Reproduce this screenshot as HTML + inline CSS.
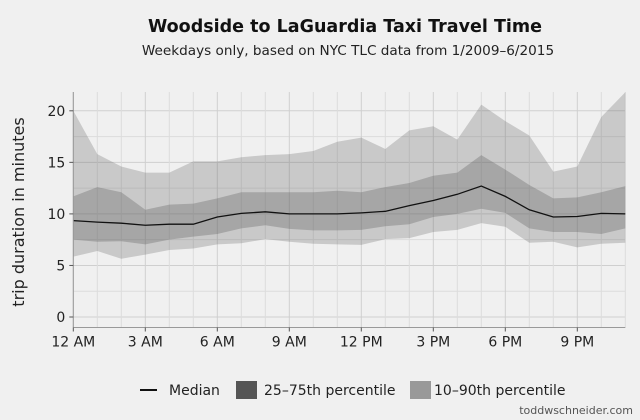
<!DOCTYPE html>
<html><head><meta charset="utf-8"><style>
html,body{margin:0;padding:0;background:#f0f0f0;}
svg{display:block;font-family:"DejaVu Sans","Liberation Sans",sans-serif;}
</style></head><body>
<svg id="chart" width="640" height="420" viewBox="0 0 640 420">
<rect width="640" height="420" fill="#f0f0f0"/>
<text x="345" y="32" text-anchor="middle" font-size="17.5" font-weight="bold" fill="#111">Woodside to LaGuardia Taxi Travel Time</text>
<text x="348" y="55" text-anchor="middle" font-size="13.6" fill="#222">Weekdays only, based on NYC TLC data from 1/2009–6/2015</text>
<g id="grid"></g>
<g id="bands"></g>
<g id="axes"></g>
<text transform="translate(24,212) rotate(-90)" text-anchor="middle" font-size="16" fill="#222">trip duration in minutes</text>
<g>
<line x1="140" y1="390" x2="157" y2="390" stroke="#111" stroke-width="2"/>
<text x="169" y="395" font-size="14" fill="#222">Median</text>
<rect x="236" y="381" width="21" height="18" fill="#555"/>
<text x="264" y="395" font-size="14" fill="#222">25–75th percentile</text>
<rect x="410" y="381" width="21" height="18" fill="#999"/>
<text x="434" y="395" font-size="14" fill="#222">10–90th percentile</text>
</g>
<text x="633" y="414" text-anchor="end" font-size="11" fill="#555">toddwschneider.com</text>
</svg>
<script>
const hours=[0,1,2,3,4,5,6,7,8,9,10,11,12,13,14,15,16,17,18,19,20,21,22,23];
const p90=[20.0,15.8,14.6,14.0,14.0,15.1,15.1,15.5,15.7,15.8,16.1,17.0,17.4,16.3,18.1,18.5,17.2,20.6,19.0,17.6,14.1,14.6,19.4,21.8];
const p75=[11.7,12.6,12.1,10.4,10.9,11.0,11.5,12.1,12.1,12.1,12.1,12.25,12.1,12.6,13.0,13.7,14.0,15.7,14.3,12.8,11.5,11.6,12.1,12.7];
const median=[9.35,9.2,9.1,8.9,9.0,9.0,9.7,10.05,10.2,10.0,10.0,10.0,10.1,10.25,10.8,11.3,11.9,12.7,11.7,10.4,9.7,9.75,10.05,10.0];
const p25=[7.5,7.3,7.35,7.05,7.5,7.8,8.05,8.6,8.9,8.55,8.4,8.4,8.45,8.8,9.0,9.7,10.0,10.5,10.1,8.6,8.25,8.25,8.05,8.6];
const p10=[5.85,6.4,5.65,6.05,6.5,6.65,7.05,7.15,7.55,7.3,7.1,7.05,7.0,7.55,7.65,8.25,8.45,9.1,8.75,7.2,7.3,6.75,7.1,7.2];
const yTicks=[0,5,10,15,20];
const xTickHours=[0,3,6,9,12,15,18,21];
const xTickLabels=["12 AM","3 AM","6 AM","9 AM","12 PM","3 PM","6 PM","9 PM"];

const NS="http://www.w3.org/2000/svg";
const X0=73.3,X1=625.3,Y0=317,PPU=10.31,TOP=92,BOT=327.5;
const x=h=>X0+(h-hours[0])*(X1-X0)/(hours[hours.length-1]-hours[0]);
const y=v=>Y0-v*PPU;
function mk(tag,attrs,parent){const e=document.createElementNS(NS,tag);for(const k in attrs)e.setAttribute(k,attrs[k]);parent.appendChild(e);return e;}
const grid=document.getElementById('grid'),bands=document.getElementById('bands'),axes=document.getElementById('axes');
for(let v=-0;v<=21;v+=2.5){const l=mk('line',{x1:X0,x2:X1,y1:y(v),y2:y(v),stroke:(v%5===0)?'#cfcfcf':'#dcdcdc','stroke-width':1},grid);

}
hours.forEach(h=>{const l=mk('line',{x1:x(h),x2:x(h),y1:TOP,y2:BOT,stroke:(h%3===0)?'#cfcfcf':'#dcdcdc','stroke-width':1},grid);

});
function band(hi,lo,fill,name){let d='M'+hours.map((h,i)=>x(h)+','+y(hi[i])).join('L');
for(let i=hours.length-1;i>=0;i--)d+='L'+x(hours[i])+','+y(lo[i]);d+='Z';
const p=mk('path',{d:d,fill:fill},bands);

}
band(p90,p10,'rgba(100,100,100,0.28)','band-10-90');
band(p75,p25,'rgba(100,100,100,0.35)','band-25-75');
const ml=mk('path',{d:'M'+hours.map((h,i)=>x(h)+','+y(median[i])).join('L'),fill:'none',stroke:'#111','stroke-width':1.3},bands);


mk('line',{x1:X0,x2:X0,y1:TOP,y2:BOT,stroke:'#999'},axes);
mk('line',{x1:X0,x2:X1,y1:BOT,y2:BOT,stroke:'#999'},axes);
yTicks.forEach(v=>{mk('line',{x1:X0-4,x2:X0,y1:y(v),y2:y(v),stroke:'#555'},axes);
const t=mk('text',{x:X0-8,y:y(v)+5,'text-anchor':'end','font-size':14,fill:'#222'},axes);t.textContent=v;

});
xTickHours.forEach((h,i)=>{mk('line',{x1:x(h),x2:x(h),y1:BOT,y2:BOT+4,stroke:'#555'},axes);
const t=mk('text',{x:x(h),y:BOT+19,'text-anchor':'middle','font-size':14,fill:'#222'},axes);t.textContent=xTickLabels[i];

});
</script>
</body></html>
